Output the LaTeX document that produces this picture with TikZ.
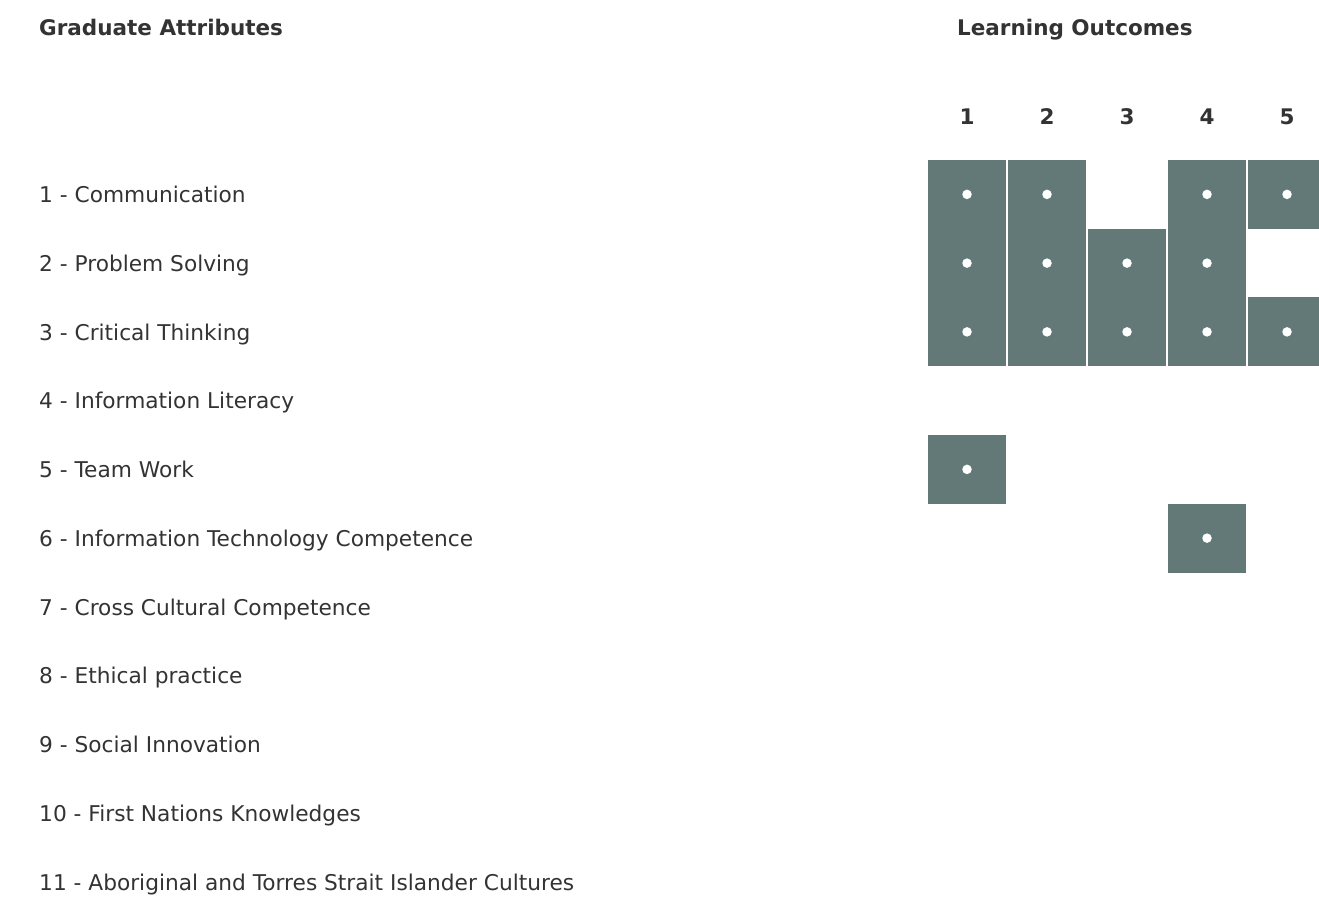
\documentclass[tikz,border=0pt]{standalone}
\usepackage{fontspec}
\setmainfont{DejaVu Sans}
\definecolor{txt}{HTML}{333333}
\definecolor{cellc}{HTML}{627978}
\begin{document}
\begin{tikzpicture}[x=1pt,y=-1pt,
  lbl/.style={anchor=base west,inner sep=0pt,text=txt,font=\fontsize{21.7}{26}\selectfont},
  hdr/.style={anchor=base west,inner sep=0pt,text=txt,font=\fontsize{21.5}{26}\selectfont\bfseries},
  num/.style={anchor=base,inner sep=0pt,text=txt,font=\fontsize{21.5}{26}\selectfont\bfseries},
  cell/.style={rectangle,inner sep=0pt,minimum width=78pt,minimum height=68.9pt,fill=cellc,draw=none},
  dot/.style={circle,inner sep=0pt,minimum size=9.5pt,fill=white}]
\useasboundingbox[fill=white] (0,0) rectangle (1319,910);
\clip (0,0) rectangle (1319,910);
\node[hdr] (h1) at (39,35) {Graduate Attributes};
\node[hdr] (h2) at (957,35) {Learning Outcomes};
\foreach \c/\x in {1/967,2/1047,3/1127,4/1207,5/1287}{
  \node[num] (n\c) at (\x,124) {\c};
}
\foreach \r/\t in {1/{1 - Communication},2/{2 - Problem Solving},3/{3 - Critical Thinking},4/{4 - Information Literacy},5/{5 - Team Work},6/{6 - Information Technology Competence},7/{7 - Cross Cultural Competence},8/{8 - Ethical practice},9/{9 - Social Innovation},10/{10 - First Nations Knowledges},11/{11 - Aboriginal and Torres Strait Islander Cultures}}{
  \node[lbl] (l\r) at (39,{160+(\r-0.5)*68.75+8.3}) {\t};
}
\foreach \r/\c in {1/1,1/2,1/4,1/5,2/1,2/2,2/3,2/4,3/1,3/2,3/3,3/4,3/5,5/1,6/4}{
  \node[cell] (c\r\c) at ({967+(\c-1)*80},{160+(\r-0.5)*68.75}) {};
  \node[dot] (d\r\c) at (c\r\c.center) {};
}
\end{tikzpicture}
\end{document}
